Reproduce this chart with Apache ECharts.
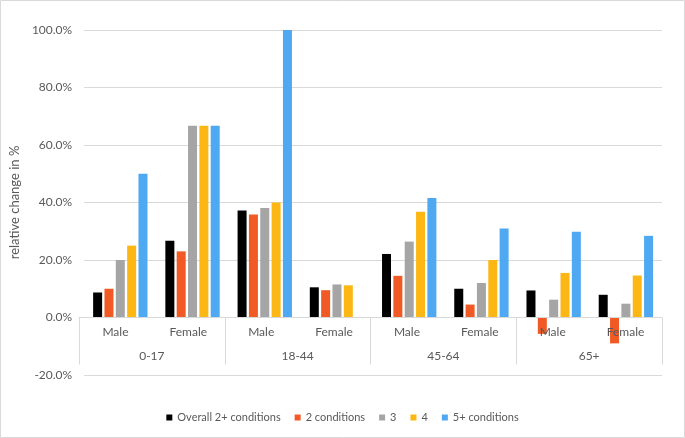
<!DOCTYPE html>
<html>
<head>
<meta charset="utf-8">
<script src="https://cdn.jsdelivr.net/npm/echarts@6/dist/echarts.min.js"></script>
<style>
html,body{margin:0;padding:0;background:#fff;}
#chart{width:685px;height:438px;}
</style>
</head>
<body>
<div id="chart"></div>
<script>
var sexCategories = ['Male','Female','Male','Female','Male','Female','Male','Female'];
var ageGroups = ['0-17','18-44','45-64','65+'];
var seriesNames = ['Overall 2+ conditions','2 conditions','3','4','5+ conditions'];
var overall2plus = [8.7, 26.7, 37.2, 10.5, 22.1, 10.0, 9.4, 7.9];
var cond2 = [10.0, 23.0, 35.8, 9.5, 14.5, 4.5, -5.7, -9.0];
var cond3 = [20.0, 66.7, 38.1, 11.5, 26.4, 12.0, 6.2, 4.8];
var cond4 = [25.0, 66.7, 40.0, 11.2, 36.8, 20.0, 15.5, 14.6];
var cond5plus = [50.0, 66.7, 100.0, null, 41.6, 31.0, 29.8, 28.4];
var yTicks = {min: -20, max: 100, interval: 20};
var colors = ['#000000','#f15a24','#a5a5a5','#fdb714','#4ea9f2'];

var allData = [overall2plus, cond2, cond3, cond4, cond5plus];
var FONT = 'Lato';
var textColor = '#595959';
var lineColor = '#d9d9d9';

// plot area geometry
var gridLeft = 79, gridRight = 23, gridTop = 30, gridBottom = 63;
var plotH = 438 - gridTop - gridBottom;
// the label grid ends where the value axis reaches zero
var zeroBottom = gridBottom + plotH * (0 - yTicks.min) / (yTicks.max - yTicks.min);

var chart = echarts.init(document.getElementById('chart'));
chart.setOption({
  animation: false,
  color: colors,
  textStyle: {fontFamily: FONT},
  grid: [
    {left: gridLeft, right: gridRight, top: gridTop, bottom: gridBottom},
    {left: gridLeft, right: gridRight, top: gridTop, bottom: zeroBottom, z: 5}
  ],
  graphic: [{
    type: 'rect', silent: true,
    shape: {x: 0.5, y: 0.5, width: 684, height: 437},
    style: {fill: 'none', stroke: lineColor, lineWidth: 1}
  }],
  legend: {
    bottom: 10, left: 'center',
    icon: 'rect', itemWidth: 6, itemHeight: 6, itemGap: 14,
    textStyle: {fontFamily: FONT, fontSize: 11, color: textColor},
    data: seriesNames
  },
  xAxis: [{
    gridIndex: 0, type: 'category', data: sexCategories, show: false
  }, {
    gridIndex: 1, type: 'category', position: 'bottom', data: sexCategories, z: 5,
    axisLine: {show: true, lineStyle: {color: lineColor}},
    axisTick: {show: false},
    axisLabel: {margin: 9, fontSize: 12, color: textColor, fontFamily: FONT, interval: 0}
  }, {
    gridIndex: 1, type: 'category', position: 'bottom', data: ageGroups, z: 5,
    axisLine: {show: false},
    axisTick: {show: true, interval: 0, length: 47, lineStyle: {color: lineColor}},
    axisLabel: {margin: 33, fontSize: 12, color: textColor, fontFamily: FONT, interval: 0}
  }],
  yAxis: [{
    gridIndex: 0,
    type: 'value', min: yTicks.min, max: yTicks.max, interval: yTicks.interval,
    name: 'relative change in %', nameLocation: 'middle', nameGap: 53,
    nameTextStyle: {fontSize: 13, color: textColor, fontFamily: FONT},
    axisLine: {show: false}, axisTick: {show: false},
    splitLine: {lineStyle: {color: lineColor}},
    axisLabel: {fontSize: 12, color: textColor, fontFamily: FONT, margin: 12,
      formatter: function (v) { return v.toFixed(1) + '%'; }}
  }, {
    gridIndex: 1, type: 'value', min: 0, max: 1, show: false
  }],
  series: seriesNames.map(function (n, i) {
    return {
      name: n, type: 'bar', xAxisIndex: 0, yAxisIndex: 0, data: allData[i],
      barWidth: 9, barGap: '26%'
    };
  })
});
</script>
</body>
</html>
